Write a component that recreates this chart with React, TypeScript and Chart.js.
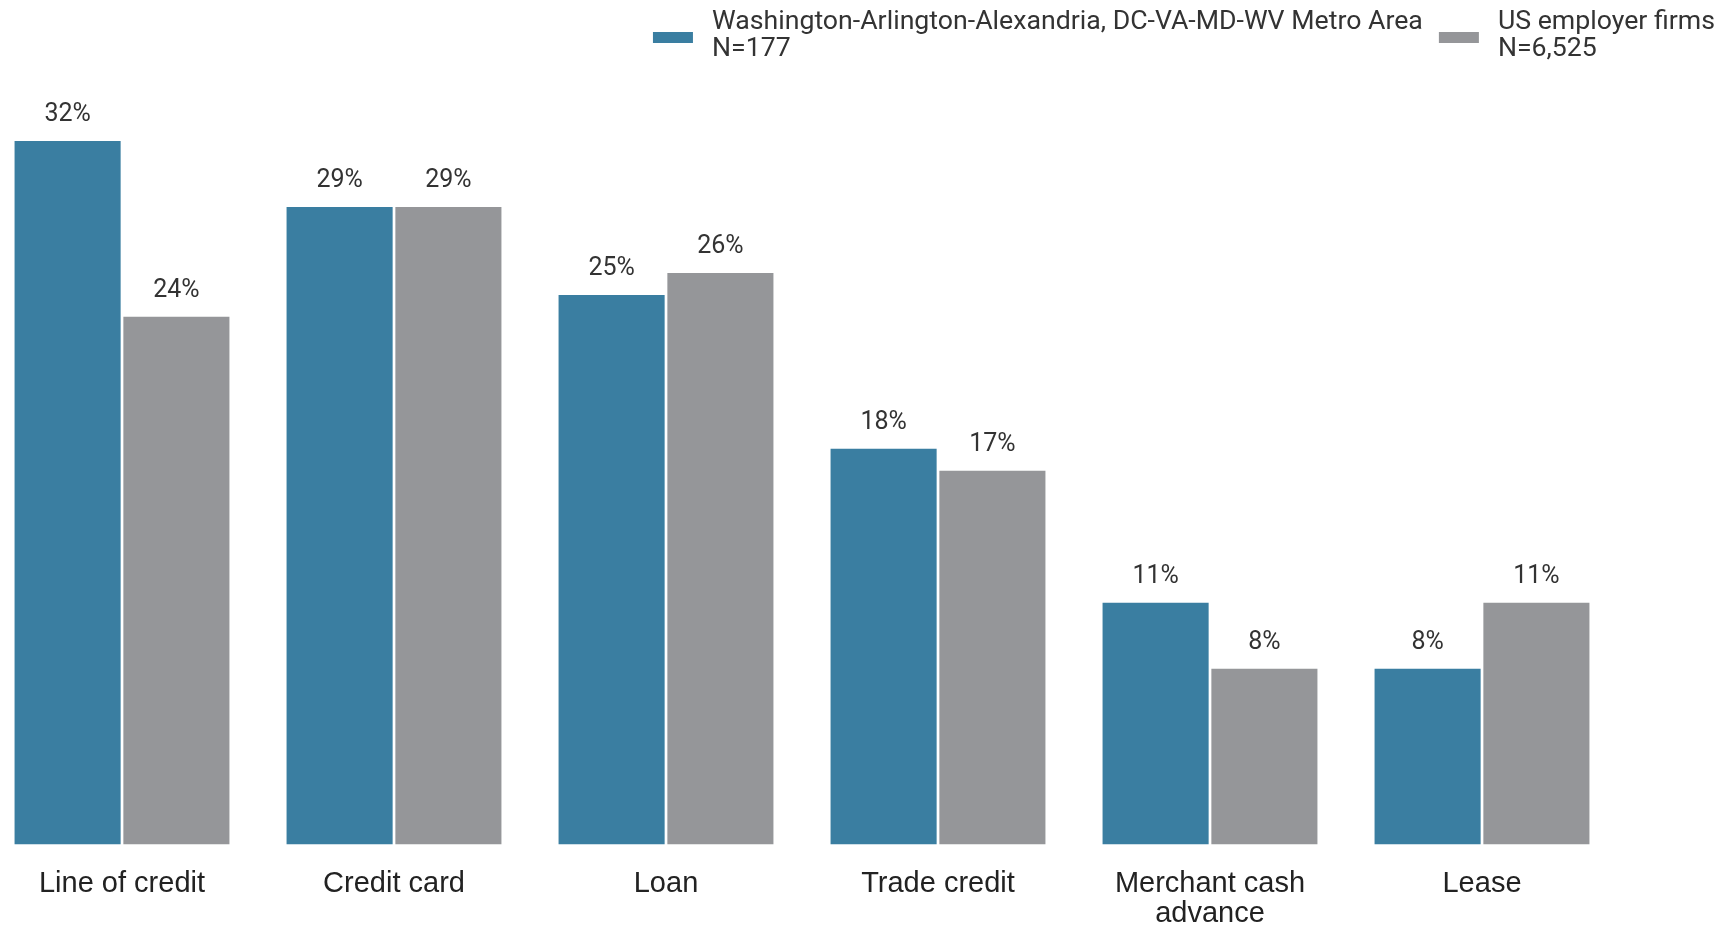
import React, { useEffect, useRef } from "react";
import { Chart, registerables } from "chart.js";

Chart.register(...registerables);

const categories: string[][] = [
  ["Line of credit"],
  ["Credit card"],
  ["Loan"],
  ["Trade credit"],
  ["Merchant cash", "advance"],
  ["Lease"],
];
const seriesNames = [
  "Washington-Arlington-Alexandria, DC-VA-MD-WV Metro Area",
  "US employer firms",
];
const seriesN = ["N=177", "N=6,525"];
const metroValues = [32, 29, 25, 18, 11, 8];
const usValues = [24, 29, 26, 17, 8, 11];
const seriesColors = ["#3a7ea1", "#959699"];

const valueLabelPlugin = {
  id: "valueLabels",
  afterDatasetsDraw(chart: any) {
    const ctx = chart.ctx;
    ctx.save();
    ctx.font = "25px Roboto";
    ctx.fillStyle = "#333333";
    ctx.textAlign = "center";
    ctx.textBaseline = "middle";
    chart.data.datasets.forEach((ds: any, di: number) => {
      const meta = chart.getDatasetMeta(di);
      meta.data.forEach((bar: any, i: number) => {
        ctx.fillText(ds.data[i] + "%", bar.x, bar.y - 26);
      });
    });
    ctx.restore();
  },
};

const legendPlugin = {
  id: "twoLineLegend",
  afterDraw(chart: any) {
    const ctx = chart.ctx;
    ctx.save();
    ctx.font = "26.7px Roboto";
    ctx.textBaseline = "middle";
    ctx.textAlign = "left";
    const boxW = 40;
    const boxH = 11;
    const boxGap = 19;
    const itemGap = 16;
    const widths = chart.data.datasets.map((_: any, i: number) =>
      Math.max(ctx.measureText(seriesNames[i]).width, ctx.measureText(seriesN[i]).width)
    );
    const total =
      widths.reduce((a: number, w: number) => a + boxW + boxGap + w, 0) +
      itemGap * (widths.length - 1);
    let x = chart.width - 12 - total;
    chart.data.datasets.forEach((ds: any, i: number) => {
      ctx.fillStyle = ds.backgroundColor;
      ctx.fillRect(x, 32, boxW, boxH);
      ctx.fillStyle = "#333333";
      ctx.fillText(seriesNames[i], x + boxW + boxGap, 22);
      ctx.fillText(seriesN[i], x + boxW + boxGap, 49);
      x += boxW + boxGap + widths[i] + itemGap;
    });
    ctx.restore();
  },
};

export default function App() {
  const canvasRef = useRef<HTMLCanvasElement | null>(null);

  useEffect(() => {
    if (!canvasRef.current) return;
    const chart = new Chart(canvasRef.current, {
      type: "bar",
      data: {
        labels: categories,
        datasets: [
          {
            label: seriesNames[0],
            data: metroValues,
            backgroundColor: seriesColors[0],
            categoryPercentage: 0.8,
            barPercentage: 0.975,
          },
          {
            label: seriesNames[1],
            data: usValues,
            backgroundColor: seriesColors[1],
            categoryPercentage: 0.8,
            barPercentage: 0.975,
          },
        ],
      },
      options: {
        animation: false,
        responsive: false,
        maintainAspectRatio: false,
        layout: {
          padding: { left: 0, right: 109, top: 75, bottom: -28.5 },
        },
        plugins: {
          legend: { display: false },
          tooltip: { enabled: false },
        },
        scales: {
          x: {
            grid: { display: false, drawTicks: false },
            border: { display: false },
            ticks: {
              color: "#222222",
              padding: 24,
              maxRotation: 0,
              font: { family: "'Liberation Sans', Arial, sans-serif", size: 29, lineHeight: 1.05 },
            },
          },
          y: {
            display: false,
            min: 0,
            max: 35,
          },
        },
      },
      plugins: [valueLabelPlugin, legendPlugin],
    });
    return () => chart.destroy();
  }, []);

  return (
    <div style={{ position: "absolute", left: -14, top: 0, width: 1741, height: 925 }}>
      <canvas ref={canvasRef} width={1741} height={925} style={{ display: "block" }} />
    </div>
  );
}
